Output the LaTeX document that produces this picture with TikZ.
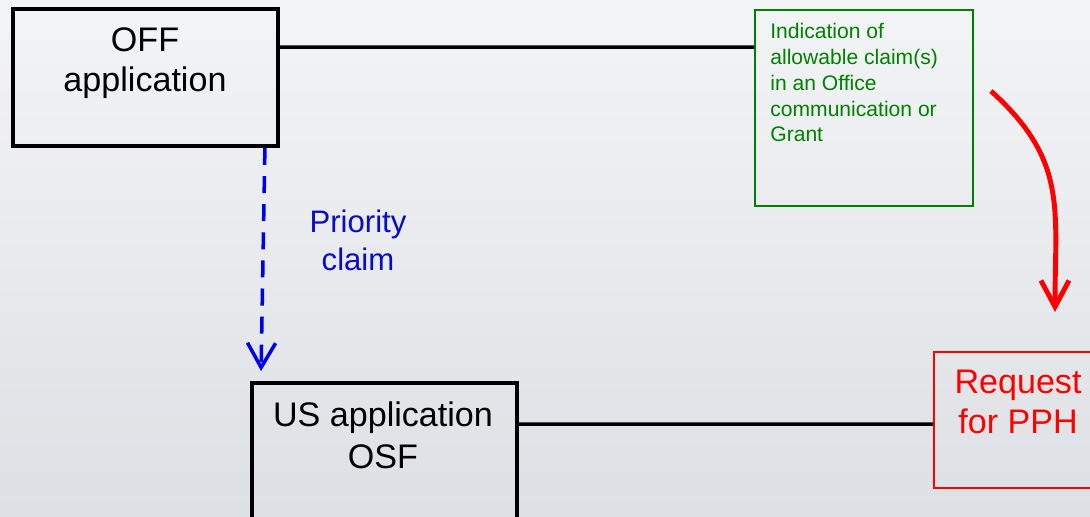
\documentclass[tikz,border=0pt]{standalone}
\usepackage{fontspec}
\setmainfont{Liberation Sans}
\usepackage{tikz}
\usetikzlibrary{arrows.meta,calc}
\definecolor{pphred}{RGB}{255,0,0}
\definecolor{prioblue}{RGB}{0,0,235}
\definecolor{priotext}{RGB}{10,10,205}
\definecolor{grantgreen}{RGB}{0,128,0}
\definecolor{bgtop}{RGB}{243,244,246}
\definecolor{bgbottom}{RGB}{221,224,228}

\begin{document}
\begin{tikzpicture}[scale=0.2,
  appbox/.style={draw=black, line width=2.2pt, minimum width=5.3cm},
  thinbox/.style={line width=1.1pt},
  bigtext/.style={font=\fontsize{19.4pt}{22.8pt}\selectfont, align=center},
  link/.style={draw=black, line width=2pt}]
\tikzstyle{every node}+=[inner sep=0pt]
\useasboundingbox (0,0) rectangle (109,-51.6);
\clip (0,0) rectangle (109,-51.6);
\shade [top color=bgtop, bottom color=bgbottom] (0,0) rectangle (109,-51.6);
\node [appbox, minimum height=2.74cm] (off) at (14.55,-7.75) {};
\node [bigtext, anchor=north] (offtext) at (14.5,-2.7) {OFF\\application};
\node [appbox, minimum height=3.54cm] (us) at (38.45,-47.15) {};
\node [bigtext, anchor=north, font=\fontsize{19.4pt}{23.9pt}\selectfont] (ustext) at (38.3,-40.1) {US application\\OSF};
\node [thinbox, draw=grantgreen, minimum width=4.36cm, minimum height=3.92cm] (green) at (86.4,-10.8) {};
\node [anchor=north west, align=left, text=grantgreen, font=\fontsize{12pt}{14.7pt}\selectfont] (greentext) at (77.0,-2.3)
  {Indication of\\allowable claim(s)\\in an Office\\communication or\\Grant};
\node [thinbox, draw=pphred, minimum width=3.52cm, minimum height=2.72cm] (red) at (102.2,-42.0) {};
\node [bigtext, anchor=north, text=pphred] (redtext) at (101.8,-37.0) {Request\\for PPH};
\node [bigtext, anchor=north, text=priotext, font=\fontsize{17.7pt}{21.6pt}\selectfont] (prio) at (35.8,-21.0) {Priority\\claim};
\draw [link] ($(off.north east)!0.285!(off.south east)$) coordinate (offlink) -- (offlink -| green.west);
\draw [link] ($(red.north west)!0.53!(red.south west)$) coordinate (pphlink) -- (pphlink -| us.east);
\draw [prioblue, line width=2pt, dash pattern=on 9.7pt off 6.3pt, -{Straight Barb[length=14pt,width=16pt]}]
  ($(off.south east)+(-1.5,0)$) -- ($(us.north west)+(1.1,1.0)$);
\draw [pphred, line width=2.8pt, -{Straight Barb[length=15pt,width=16pt]}]
  ($(green.north east)+(1.7,-8.2)$) to [out=-42, in=90, looseness=1.15] ($(red.north)+(3.3,3.9)$);
\end{tikzpicture}
\end{document}
